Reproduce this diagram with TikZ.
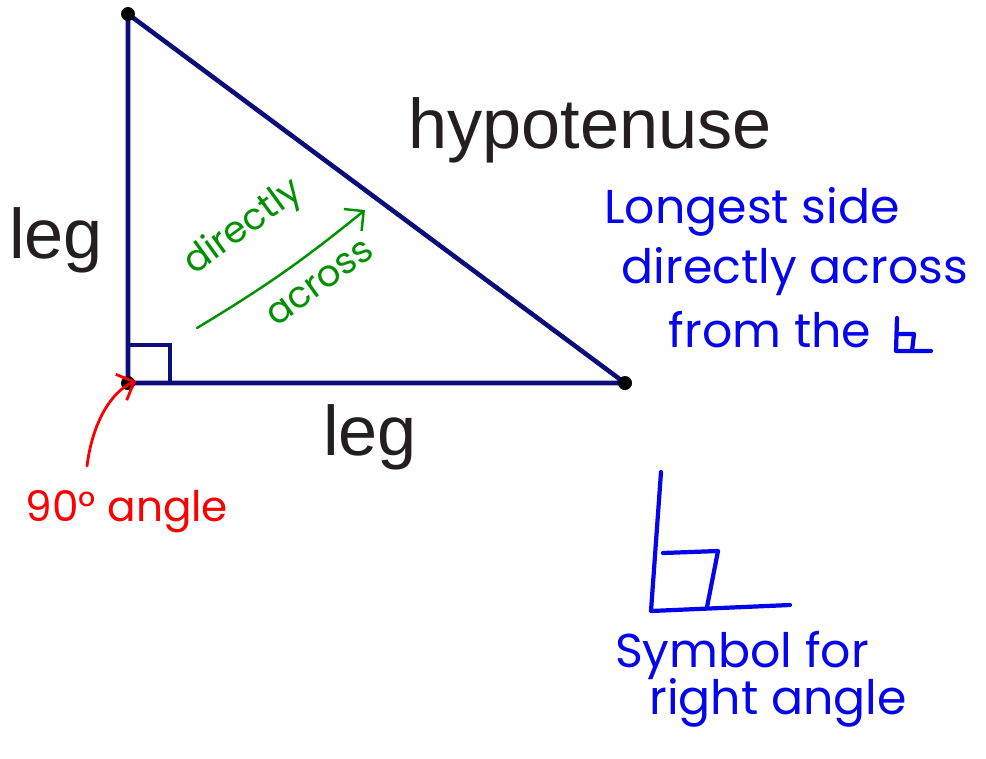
\documentclass[tikz,border=0pt]{standalone}
\usepackage{fontspec}
\setmainfont{Liberation Sans}
\newfontfamily\handfont{Poppins}
\usetikzlibrary{arrows.meta}

\definecolor{navy}{RGB}{12,12,122}
\definecolor{inkblue}{RGB}{5,5,235}
\definecolor{inkgreen}{RGB}{0,145,0}
\definecolor{inkred}{RGB}{250,0,0}
\definecolor{printgray}{RGB}{35,31,32}

\tikzset{
  side/.style={draw=navy, line width=2.6pt},
  vertex/.style={circle, fill=black, inner sep=0pt, minimum size=0.28cm},
  printed/.style={text=printgray, font=\fontsize{40}{45}\selectfont},
  hand/.style={font=\handfont\fontsize{27}{32}\selectfont},
  penline/.style={line width=2.4pt, line cap=round, line join=round},
}

\begin{document}
\begin{tikzpicture}[x=0.02cm, y=-0.02cm]
    \useasboundingbox (0,0) rectangle (986,758);

    % Triangle
    \coordinate (top) at (128,14);
    \coordinate (corner) at (128,383);
    \coordinate (right) at (625,383);
    \draw[side] (top) -- (corner) -- (right) -- cycle;
    \draw[side] (128,345) -| (170,383);
    \node[vertex] at (top) {};
    \node[vertex] at (corner) {};
    \node[vertex] at (right) {};

    % Printed labels
    \node[printed] (hyp) at (590,130) {hypotenuse};
    \node[printed] (legside) at (56,240) {leg};
    \node[printed] (legbase) at (370,437) {leg};

    % Green note
    \node[hand, text=inkgreen, font=\handfont\fontsize{21}{25}\selectfont, rotate=36] (directly) at (244,228) {directly};
    \node[hand, text=inkgreen, font=\handfont\fontsize{21}{25}\selectfont, rotate=36] (across) at (320,283) {across};
    \coordinate (gstart) at (197,328);
    \coordinate (gend) at (365,210);
    \draw[penline, line width=1.4pt, inkgreen, -{Straight Barb[length=8pt]}] (gstart) to[bend right=4] (gend);

    % Red note
    \node[hand, text=inkred, font=\handfont\fontsize{24}{28}\selectfont] (ninety) at (127,512) {90° angle};
    \coordinate (rstart) at (87,466);
    \draw[penline, line width=1.6pt, inkred, -{Straight Barb[length=8pt]}]
        (rstart) .. controls (92,425) and (110,392) .. (136,381);

    % Blue note
    \node[hand, text=inkblue] (longest) at (752,212) {Longest side};
    \node[hand, text=inkblue] (across2) at (795,272) {directly across};
    \node[hand, text=inkblue] (fromthe) at (770,330) {from the};
    \draw[penline, inkblue] (897,318) -- (896,351) -- (931,351);
    \draw[penline, inkblue] (897,334) -- (914,334) -- (912,351);

    % Right angle symbol
    \draw[penline, inkblue] (661,472) -- (651,611) -- (790,605);
    \draw[penline, inkblue] (663,553) -- (718,551) -- (707,607);
    \node[hand, text=inkblue] (symbol) at (742,655) {Symbol for};
    \node[hand, text=inkblue] (rightangle) at (778,703) {right angle};
\end{tikzpicture}
\end{document}
